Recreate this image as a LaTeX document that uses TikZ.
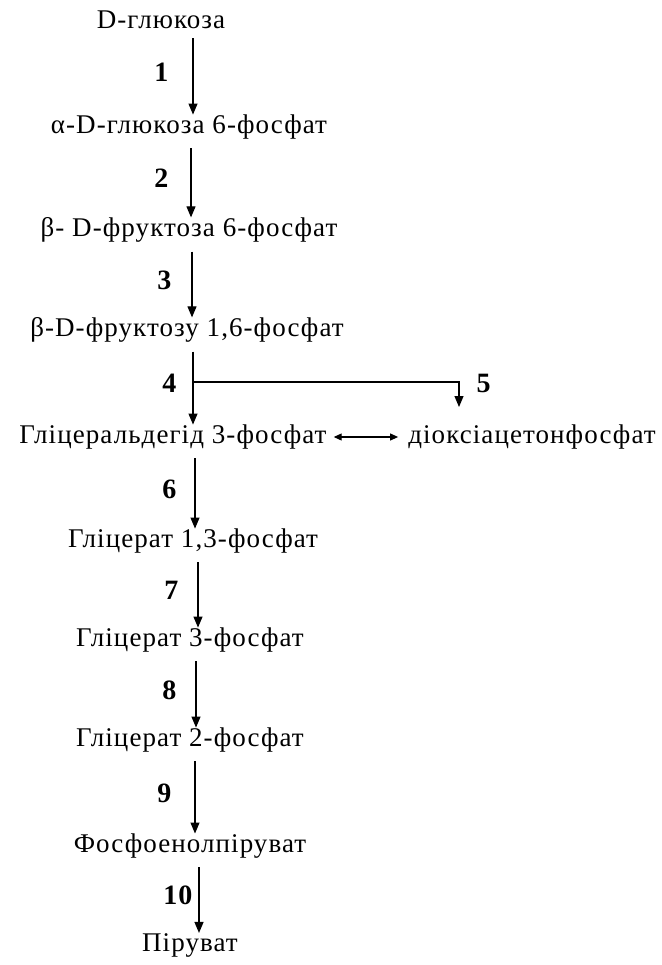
\documentclass[tikz,border=0pt]{standalone}
\usepackage{fontspec}
\setmainfont{Liberation Serif}[LetterSpace=4]
\usepackage{tikz}
\usetikzlibrary{arrows.meta, positioning}

\begin{document}
\begin{tikzpicture}[x=1pt, y=-1pt,
    every node/.style={font=\rmfamily\fontsize{27}{32}\selectfont, inner sep=2pt, inner ysep=5pt},
    arr/.style = {-{Triangle[length=11pt, width=9pt]}, line width=1.1pt, shorten <=4pt, shorten >=-5pt},
    num/.style = {font=\rmfamily\fontsize{28}{32}\selectfont\bfseries}
]
\useasboundingbox (0,0) rectangle (661,965);

\node (n1)  at (161,20)  {D-глюкоза};
\node (n2)  at (189,127) {α-D-глюкоза 6-фосфат};
\node (n3)  at (189,230) {β- D-фруктоза 6-фосфат};
\node (n4)  at (187,330) {β-D-фруктозу 1,6-фосфат};
\node (n5)  at (173,437) {Гліцеральдегід 3-фосфат};
\node (n6)  at (532,437) {діоксіацетонфосфат};
\node (n7)  at (193,541) {Гліцерат 1,3-фосфат};
\node (n8)  at (190,640) {Гліцерат 3-фосфат};
\node (n9)  at (190,740) {Гліцерат 2-фосфат};
\node (n10) at (190,846) {Фосфоенолпіруват};
\node (n11) at (190,945) {Піруват};

\coordinate (b0) at (193,382);
\coordinate (b1) at (459,382);

\draw[arr] (n1.south -| 193,0) -- (n2.north -| 193,0) node[num, midway, left=22pt] {1};
\draw[arr] (n2.south -| 191,0) -- (n3.north -| 191,0) node[num, midway, left=20pt] {2};
\draw[arr] (n3.south -| 192,0) -- (n4.north -| 192,0) node[num, midway, left=18pt] {3};
\draw[arr] (n4.south -| 193,0) -- (n5.north -| 193,0) node[num, midway, left=14pt] {4};
\draw[arr, shorten <=0pt, shorten >=0pt] (b0) -- (b1) -- ++(0,25) node[num, right=15pt, pos=0.05] {5};
\draw[{Triangle[length=8pt, width=7pt]}-{Triangle[length=8pt, width=7pt]}, line width=1.1pt, shorten <=5pt, shorten >=8pt] (n5.east) -- (n6.west);
\draw[arr] (n5.south -| 195,0) -- (n7.north -| 195,0) node[num, midway, left=16pt] {6};
\draw[arr] (n7.south -| 198,0) -- (n8.north -| 198,0) node[num, midway, left=17pt] {7};
\draw[arr] (n8.south -| 196,0) -- (n9.north -| 196,0) node[num, midway, left=17pt] {8};
\draw[arr] (n9.south -| 195,0) -- (n10.north -| 195,0) node[num, midway, left=21pt] {9};
\draw[arr] (n10.south -| 199,0) -- (n11.north -| 199,0) node[num, midway, left=4pt] {10};

\end{tikzpicture}
\end{document}
